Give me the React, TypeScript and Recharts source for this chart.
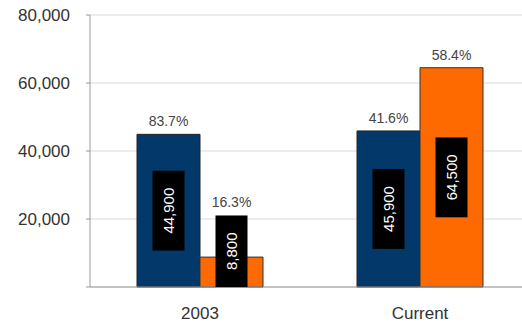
import { BarChart, Bar, XAxis, YAxis, CartesianGrid, LabelList } from 'recharts';

const categories = ['2003', 'Current'];
const navyValues = [44900, 45900];
const orangeValues = [8800, 64500];
const navyShares = ['83.7%', '41.6%'];
const orangeShares = ['16.3%', '58.4%'];
const yTicks = [0, 20000, 40000, 60000, 80000];

const data = categories.map((name, i) => ({
  name,
  navy: navyValues[i],
  orange: orangeValues[i],
}));

const FONT = '"Liberation Sans", Arial, sans-serif';

const fmt = (v: number) => v.toLocaleString('en-US');

function makeLabel(shares: string[]) {
  return (props: any) => {
    const { x, y, width, height, value, index } = props;
    const text = fmt(Number(value));
    const digits = text.replace(/,/g, '').length;
    const commas = text.length - digits;
    const fs = 15;
    const boxH = fs * (digits * 0.556 + commas * 0.278) + 34;
    const boxW = 32;
    const cx = x + width / 2;
    const base = y + height;
    let boxTop = y + height / 2 - boxH / 2;
    if (boxTop + boxH > base) boxTop = base - boxH;
    const cy = boxTop + boxH / 2;
    const pctY = Math.min(y, boxTop) - 8;
    return (
      <g>
        <rect x={cx - boxW / 2} y={boxTop} width={boxW} height={boxH} fill="#000" />
        <text
          x={cx}
          y={cy}
          fill="#fff"
          fontSize={fs}
          fontFamily={FONT}
          textAnchor="middle"
          dominantBaseline="central"
          transform={`rotate(-90 ${cx} ${cy})`}
        >
          {text}
        </text>
        <text x={cx} y={pctY} fill="#444" fontSize={14} fontFamily={FONT} textAnchor="middle">
          {shares[index]}
        </text>
      </g>
    );
  };
}

export default function App() {
  return (
    <div
      style={{
        position: 'absolute',
        left: 0,
        top: 0,
        width: 522,
        height: 329,
        overflow: 'hidden',
        background: '#fff',
      }}
    >
      <BarChart
        width={530}
        height={329}
        data={data}
        margin={{ top: 15, right: 0, bottom: 12, left: 0 }}
        barGap={0}
        barSize={63}
      >
        <CartesianGrid vertical={false} stroke="#d9d9d9" />
        <XAxis
          dataKey="name"
          height={30}
          tickLine={false}
          tickMargin={14}
          axisLine={{ stroke: '#999' }}
          tick={{ fill: '#333', fontSize: 17, fontFamily: FONT }}
        />
        <YAxis
          width={90}
          domain={[0, 80000]}
          ticks={yTicks}
          tickFormatter={(v: number) => (v === 0 ? '' : fmt(v))}
          tickSize={4}
          tickMargin={16}
          axisLine={{ stroke: '#999' }}
          tickLine={{ stroke: '#999' }}
          tick={{ fill: '#333', fontSize: 17, fontFamily: FONT }}
        />
        <Bar dataKey="navy" fill="#03386b" stroke="#222" strokeWidth={1} isAnimationActive={false}>
          <LabelList dataKey="navy" content={makeLabel(navyShares)} />
        </Bar>
        <Bar dataKey="orange" fill="#ff6a00" stroke="#333" strokeWidth={1} isAnimationActive={false}>
          <LabelList dataKey="orange" content={makeLabel(orangeShares)} />
        </Bar>
      </BarChart>
    </div>
  );
}
